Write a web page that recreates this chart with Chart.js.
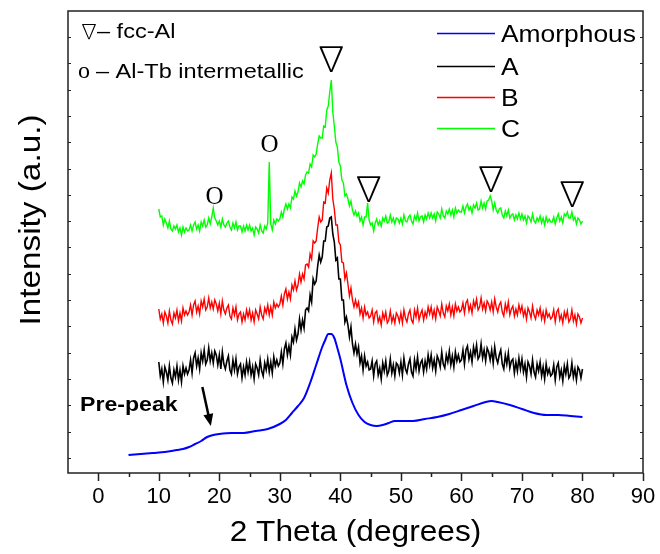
<!DOCTYPE html>
<html>
<head>
<meta charset="utf-8">
<script src="https://cdn.jsdelivr.net/npm/chart.js@4.4.1/dist/chart.umd.min.js"></script>
<style>
  body { margin: 0; background: #fff; }
  #box { width: 660px; height: 554px; }
</style>
</head>
<body>
<div id="box"><canvas id="xrdChart" width="660" height="554"></canvas></div>
<script>
// scans of samples A, B, C: 10..80 deg, step 0.25 deg (a.u., one row = 5 deg)
var scanStart = 10;
var scanStep = 0.25;

var sampleA = [
  111, 97, 104, 91, 106, 101, 93, 107, 95, 90, 103, 96, 107, 93, 103, 91, 107, 99, 105, 99,
  103, 113, 100, 115, 120, 107, 115, 104, 120, 112, 123, 109, 113, 125, 112, 120, 110, 122, 118, 108,
  118, 104, 121, 109, 104, 112, 117, 103, 99, 113, 103, 114, 99, 106, 109, 95, 106, 98, 111, 101,
  111, 98, 106, 94, 109, 105, 98, 113, 102, 97, 110, 103, 114, 101, 111, 100, 116, 107, 113, 107,
  110, 121, 109, 124, 130, 118, 127, 118, 136, 131, 144, 133, 139, 154, 143, 153, 145, 163, 165, 162,
  178, 171, 194, 189, 192, 207, 218, 211, 216, 232, 232, 246, 247, 255, 256, 239, 231, 213, 215, 194,
  194, 173, 173, 151, 156, 148, 136, 146, 129, 120, 129, 119, 126, 110, 117, 103, 117, 107, 111, 103,
  104, 112, 97, 109, 112, 98, 105, 94, 110, 102, 112, 98, 102, 114, 100, 108, 97, 110, 108, 100,
  111, 98, 115, 104, 100, 109, 114, 101, 97, 113, 104, 116, 102, 110, 113, 101, 112, 104, 118, 108,
  118, 105, 113, 102, 117, 113, 106, 121, 109, 105, 118, 111, 122, 108, 117, 106, 121, 112, 118, 111,
  113, 123, 109, 123, 127, 114, 121, 111, 126, 118, 128, 114, 117, 129, 115, 123, 112, 125, 121, 113,
  123, 110, 126, 115, 110, 118, 123, 109, 104, 118, 109, 120, 105, 112, 114, 100, 111, 102, 115, 104,
  114, 101, 109, 96, 111, 107, 99, 113, 101, 96, 109, 102, 111, 97, 106, 94, 109, 99, 104, 97,
  99, 108, 93, 106, 110, 96, 103, 92, 107, 99, 109, 95, 98, 110, 96, 104, 93, 106, 103, 95,
  104
];

var sampleB = [
  164, 154, 159, 150, 161, 157, 150, 162, 153, 149, 160, 155, 163, 152, 160, 152, 165, 158, 162, 158,
  161, 168, 158, 168, 172, 161, 167, 159, 172, 166, 174, 163, 166, 175, 165, 171, 164, 173, 169, 162,
  170, 159, 172, 163, 159, 165, 168, 157, 154, 165, 158, 166, 153, 159, 161, 151, 159, 153, 163, 156,
  163, 153, 160, 151, 163, 159, 154, 166, 158, 154, 165, 160, 168, 158, 166, 158, 171, 165, 169, 166,
  169, 177, 168, 179, 184, 174, 181, 174, 188, 183, 192, 183, 188, 199, 191, 199, 194, 208, 209, 206,
  219, 214, 232, 230, 232, 245, 256, 251, 253, 271, 270, 285, 280, 293, 300, 274, 264, 248, 248, 231,
  228, 211, 210, 194, 200, 189, 177, 185, 173, 166, 173, 166, 171, 159, 165, 155, 166, 158, 161, 155,
  157, 163, 151, 160, 162, 151, 156, 148, 160, 154, 161, 150, 153, 162, 151, 157, 150, 160, 157, 151,
  160, 150, 163, 155, 151, 159, 163, 153, 150, 163, 156, 165, 153, 159, 163, 153, 161, 156, 166, 159,
  166, 156, 163, 154, 166, 162, 157, 169, 160, 156, 167, 162, 169, 158, 166, 157, 169, 162, 166, 161,
  163, 170, 160, 170, 173, 162, 168, 160, 172, 166, 174, 163, 166, 175, 164, 170, 162, 172, 169, 163,
  171, 161, 174, 166, 161, 168, 171, 161, 157, 169, 162, 171, 158, 164, 167, 157, 164, 158, 168, 161,
  167, 157, 163, 154, 165, 161, 155, 167, 158, 154, 163, 158, 165, 154, 161, 152, 163, 156, 159, 154,
  156, 163, 151, 161, 164, 153, 158, 150, 161, 155, 162, 151, 154, 163, 152, 158, 149, 159, 156, 150,
  155
];

var sampleC = [
  264, 256, 257, 248, 254, 250, 245, 252, 244, 242, 247, 244, 248, 241, 245, 238, 246, 241, 245, 242,
  243, 248, 242, 248, 251, 244, 248, 242, 251, 247, 253, 246, 248, 255, 249, 256, 265, 255, 252, 248,
  252, 246, 254, 248, 246, 250, 252, 246, 243, 250, 245, 251, 243, 247, 247, 241, 247, 242, 248, 243,
  248, 242, 245, 238, 246, 244, 240, 248, 242, 240, 247, 244, 250, 311, 249, 243, 253, 249, 254, 252,
  254, 261, 256, 264, 269, 264, 269, 265, 276, 274, 282, 277, 281, 290, 286, 292, 289, 298, 301, 300,
  309, 306, 318, 316, 319, 329, 337, 335, 335, 347, 346, 363, 367, 381, 393, 361, 347, 331, 326, 311,
  307, 293, 290, 277, 279, 274, 267, 272, 263, 258, 262, 257, 260, 252, 256, 248, 256, 256, 270, 253,
  248, 250, 242, 250, 254, 248, 252, 247, 255, 252, 257, 250, 251, 258, 251, 255, 249, 255, 254, 250,
  255, 249, 258, 252, 251, 256, 258, 252, 249, 257, 253, 260, 252, 256, 257, 251, 258, 254, 260, 255,
  260, 255, 259, 252, 261, 259, 255, 264, 257, 255, 262, 259, 264, 258, 263, 256, 265, 260, 263, 261,
  261, 267, 260, 266, 269, 263, 266, 260, 268, 265, 270, 263, 264, 272, 265, 270, 264, 272, 273, 277,
  272, 263, 270, 263, 260, 264, 265, 258, 255, 262, 257, 263, 255, 258, 259, 253, 258, 254, 260, 254,
  259, 253, 257, 250, 257, 255, 251, 259, 252, 250, 255, 252, 257, 250, 255, 248, 256, 251, 254, 251,
  251, 256, 249, 255, 259, 252, 256, 250, 259, 257, 261, 255, 255, 261, 253, 256, 249, 255, 253, 249,
  252
];

// amorphous ribbon, smoother scan
var amorphAngles = [
  5, 7, 9, 11, 13, 14, 15, 16, 17, 18,
  19, 20, 22, 24, 26, 28, 30, 31, 32, 33,
  34, 35, 36, 37, 37.5, 38, 38.5, 39, 39.5, 40,
  41, 42, 43, 44, 45, 46, 47, 48, 49, 50,
  52, 54, 56, 58, 60, 62, 64, 65, 66, 68,
  70, 72, 74, 76, 78, 80
];
var amorphValues = [
  18, 19, 20, 21, 23, 24, 26, 29, 32, 36,
  38, 39, 40, 40, 42, 44, 49, 53, 60, 67,
  75, 90, 108, 126, 133, 139, 139, 135, 125, 114,
  88, 70, 58, 51, 48, 47, 48, 50, 52, 52,
  52, 54, 56, 59, 63, 67, 71, 72, 71, 68,
  64, 60, 58, 58, 57, 56
];

var seriesNames = ["Amorphous", "A", "B", "C"];
var seriesColors = ["#0000ff", "#000000", "#ff0000", "#00ff00"];
var xTickLabels = [0, 10, 20, 30, 40, 50, 60, 70, 80, 90];
var xMinorTicks = [5, 15, 25, 35, 45, 55, 65, 75, 85];

// peak markers: [symbol, angle, height]
var peakMarks = [
  ["\u2207", 38.5, 415],
  ["O", 19.2, 276],
  ["O", 28.3, 328],
  ["\u2207", 44.7, 285],
  ["\u2207", 64.9, 295],
  ["\u2207", 78.3, 280]
];

function scanPoints(values) {
  return values.map(function (v, i) {
    return { x: scanStart + i * scanStep, y: v };
  });
}

var amorphPoints = amorphAngles.map(function (a, i) {
  return { x: a, y: amorphValues[i] };
});

var TEXT_FONT = "'Liberation Sans', Arial, sans-serif";
var SERIF_FONT = "'Liberation Serif', 'Times New Roman', serif";
var NABLA_FONT = "'Noto Sans CJK JP', 'DejaVu Sans', sans-serif";

// text is a bit wider in the original, so stretch it horizontally
function putText(ctx, str, x, y, font, align, sx) {
  ctx.save();
  ctx.font = font;
  ctx.textAlign = align || "left";
  ctx.textBaseline = "alphabetic";
  ctx.fillStyle = "#000";
  ctx.translate(x, y);
  ctx.scale(sx || 1, 1);
  ctx.fillText(str, 0, 0);
  ctx.restore();
}

var framePlugin = {
  id: "frame",
  afterDatasetsDraw: function (chart) {
    var ctx = chart.ctx;
    var a = chart.chartArea;
    var xs = chart.scales.x;
    var ys = chart.scales.y;
    ctx.save();

    // box
    ctx.strokeStyle = "#222";
    ctx.lineWidth = 1.5;
    ctx.strokeRect(a.left, a.top, a.right - a.left, a.bottom - a.top);

    // x ticks, outside
    ctx.beginPath();
    xTickLabels.forEach(function (t) {
      var px = Math.round(xs.getPixelForValue(t)) + 0.5;
      ctx.moveTo(px, a.bottom);
      ctx.lineTo(px, a.bottom + 8);
    });
    xMinorTicks.forEach(function (t) {
      var px = Math.round(xs.getPixelForValue(t)) + 0.5;
      ctx.moveTo(px, a.bottom);
      ctx.lineTo(px, a.bottom + 4);
    });
    ctx.stroke();

    // y ticks, inward on both sides
    ctx.lineWidth = 1;
    ctx.beginPath();
    for (var v = 15.1; v < ys.max; v += 26.3) {
      var py = Math.round(ys.getPixelForValue(v)) + 0.5;
      ctx.moveTo(a.left, py);
      ctx.lineTo(a.left + 3, py);
      ctx.moveTo(a.right, py);
      ctx.lineTo(a.right - 3, py);
    }
    ctx.stroke();

    // tick labels
    xTickLabels.forEach(function (t) {
      putText(ctx, String(t), xs.getPixelForValue(t), 503, "22px " + TEXT_FONT, "center");
    });

    // axis titles
    putText(ctx, "2 Theta (degrees)", (a.left + a.right) / 2, 541, "30px " + TEXT_FONT, "center", 1.055);
    ctx.save();
    ctx.translate(40, 220);
    ctx.rotate(-Math.PI / 2);
    putText(ctx, "Intensity (a.u.)", 0, 0, "30px " + TEXT_FONT, "center", 1.11);
    ctx.restore();

    // phase key
    putText(ctx, "\u2207", 79, 39, "300 20px " + NABLA_FONT, "left");
    putText(ctx, "\u2013 fcc-Al", 97, 38, "21px " + TEXT_FONT, "left", 1.12);
    putText(ctx, "o", 78, 78, "24px " + SERIF_FONT, "left");
    putText(ctx, "\u2013 Al-Tb intermetallic", 96, 78, "21px " + TEXT_FONT, "left", 1.12);

    // peak markers
    peakMarks.forEach(function (m) {
      var px = xs.getPixelForValue(m[1]);
      var py = ys.getPixelForValue(m[2]);
      ctx.save();
      ctx.font = (m[0] === "O" ? "25px " + SERIF_FONT : "300 34px " + NABLA_FONT);
      ctx.textAlign = "center";
      ctx.textBaseline = "middle";
      ctx.fillStyle = "#000";
      ctx.fillText(m[0], px, py);
      ctx.restore();
    });

    // pre-peak note with arrow
    putText(ctx, "Pre-peak", 80, 411, "bold 21px " + TEXT_FONT, "left", 1.1);
    var tipX = xs.getPixelForValue(18.6);
    var tipY = ys.getPixelForValue(47);
    var tailX = xs.getPixelForValue(17.2);
    var tailY = ys.getPixelForValue(86);
    var ang = Math.atan2(tipY - tailY, tipX - tailX);
    ctx.strokeStyle = "#000";
    ctx.fillStyle = "#000";
    ctx.lineWidth = 2.5;
    ctx.beginPath();
    ctx.moveTo(tailX, tailY);
    ctx.lineTo(tipX - 8 * Math.cos(ang), tipY - 8 * Math.sin(ang));
    ctx.stroke();
    ctx.beginPath();
    ctx.moveTo(tipX, tipY);
    ctx.lineTo(tipX - 12 * Math.cos(ang) + 5 * Math.sin(ang), tipY - 12 * Math.sin(ang) - 5 * Math.cos(ang));
    ctx.lineTo(tipX - 12 * Math.cos(ang) - 5 * Math.sin(ang), tipY - 12 * Math.sin(ang) + 5 * Math.cos(ang));
    ctx.closePath();
    ctx.fill();

    // legend
    var legendY = [33, 66, 97, 128];
    chart.data.datasets.forEach(function (ds, i) {
      ctx.strokeStyle = ds.borderColor;
      ctx.lineWidth = 1.5;
      ctx.beginPath();
      ctx.moveTo(437, legendY[i] + 0.5);
      ctx.lineTo(495, legendY[i] + 0.5);
      ctx.stroke();
      putText(ctx, ds.label, 501, legendY[i] + 9, "24px " + TEXT_FONT, "left", 1.1);
    });

    ctx.restore();
  }
};

var ctx = document.getElementById("xrdChart").getContext("2d");
var chart = new Chart(ctx, {
  type: "line",
  data: {
    datasets: [
      {
        label: seriesNames[0],
        data: amorphPoints,
        borderColor: seriesColors[0],
        borderWidth: 2,
        tension: 0.4,
        cubicInterpolationMode: "monotone"
      },
      {
        label: seriesNames[1],
        data: scanPoints(sampleA),
        borderColor: seriesColors[1],
        borderWidth: 1.6
      },
      {
        label: seriesNames[2],
        data: scanPoints(sampleB),
        borderColor: seriesColors[2],
        borderWidth: 1.4
      },
      {
        label: seriesNames[3],
        data: scanPoints(sampleC),
        borderColor: seriesColors[3],
        borderWidth: 1.4
      }
    ]
  },
  options: {
    responsive: false,
    animation: false,
    devicePixelRatio: 1,
    layout: { padding: { left: 68, right: 17, top: 11, bottom: 81 } },
    elements: { point: { radius: 0 }, line: { fill: false } },
    plugins: { legend: { display: false }, tooltip: { enabled: false } },
    scales: {
      x: { type: "linear", min: -5, max: 90, display: false },
      y: { min: 0, max: 462, display: false }
    }
  },
  plugins: [framePlugin]
});
</script>
</body>
</html>
